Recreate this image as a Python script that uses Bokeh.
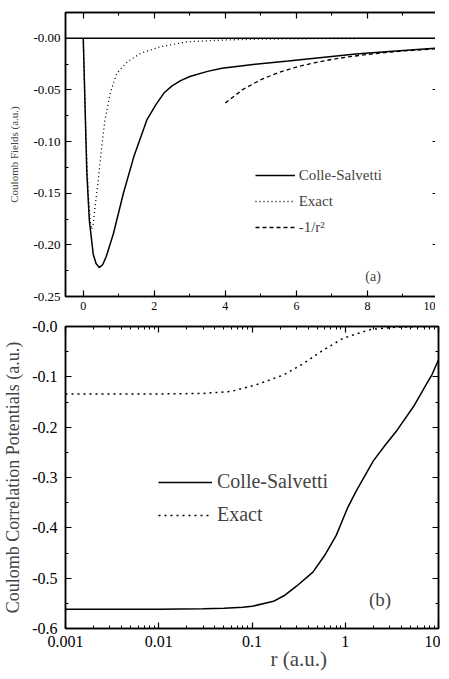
from bokeh.plotting import figure
from bokeh.layouts import column
from bokeh.models import (LinearAxis, LogAxis, FixedTicker, CustomJSTickFormatter,
                          Span, Label, Legend, LegendItem, Range1d, Title)
from bokeh.embed import file_html
from bokeh.resources import INLINE

FONT = "Liberation Serif"

# ---------------- panel (a) data ----------------
a_xticks = [0, 2, 4, 6, 8, 10]
a_xminor = [1, 3, 5, 7, 9]
a_yticks = [0.0, -0.05, -0.10, -0.15, -0.20, -0.25]
a_yminor = [-0.025, -0.075, -0.125, -0.175, -0.225]

a_cs_r = [0.0, 0.05, 0.10, 0.17, 0.28, 0.36, 0.45, 0.55, 0.65, 0.85, 1.13, 1.42, 1.79,
          2.05, 2.27, 2.50, 2.74, 3.00, 3.50, 3.90, 4.84, 5.77, 6.72, 7.67, 8.61, 10.0]
a_cs_f = [0.0, -0.065, -0.130, -0.176, -0.209, -0.218, -0.222, -0.219, -0.211, -0.189,
          -0.150, -0.115, -0.079, -0.064, -0.053, -0.046, -0.041, -0.037, -0.032, -0.029,
          -0.025, -0.022, -0.0185, -0.0153, -0.0127, -0.0095]

a_ex_r = [0.0, 0.075, 0.14, 0.20, 0.235, 0.28, 0.33, 0.42, 0.52, 0.61, 0.76, 0.94, 1.23,
          1.61, 2.17, 2.93, 4.0, 5.0, 7.0, 10.0]
a_ex_f = [0.0, -0.096, -0.150, -0.178, -0.185, -0.180, -0.164, -0.138, -0.105, -0.079,
          -0.053, -0.034, -0.023, -0.0146, -0.0082, -0.0033, -0.0016, -0.0008, -0.0002, 0.0]

a_asym_r = [4.0, 4.5, 5.0, 5.5, 6.0, 6.5, 7.0, 7.5, 8.0, 8.5, 9.0, 9.5, 10.0]
a_asym_f = [-0.0625, -0.0494, -0.0400, -0.0331, -0.0278, -0.0237, -0.0204, -0.0178,
            -0.0156, -0.0138, -0.0123, -0.0111, -0.0100]

# ---------------- panel (b) data ----------------
b_xticks = [0.001, 0.01, 0.1, 1, 10]
b_xminor = [m * d for d in [0.001, 0.01, 0.1, 1] for m in range(2, 10)]
b_yticks = [0.0, -0.1, -0.2, -0.3, -0.4, -0.5, -0.6]
b_yminor = [-0.05, -0.15, -0.25, -0.35, -0.45, -0.55]

b_cs_r = [0.001, 0.01, 0.03, 0.05, 0.08, 0.10, 0.17, 0.22, 0.30, 0.45, 0.60, 0.80, 1.05,
          1.30, 2.0, 2.7, 3.6, 5.4, 7.5, 8.5, 10.0]
b_cs_v = [-0.562, -0.562, -0.561, -0.560, -0.558, -0.556, -0.546, -0.535, -0.516, -0.488,
          -0.455, -0.415, -0.362, -0.328, -0.267, -0.235, -0.206, -0.159, -0.113, -0.096,
          -0.066]

b_ex_r = [0.001, 0.01, 0.03, 0.06, 0.11, 0.22, 0.36, 0.59, 0.96, 1.86, 3.6, 10.0]
b_ex_v = [-0.134, -0.134, -0.133, -0.129, -0.116, -0.096, -0.073, -0.046, -0.023, -0.006,
          -0.001, 0.0]


def style_axis(ax, size, show=True, standoff=4):
    ax.major_tick_in = 6
    ax.major_tick_out = 0
    ax.minor_tick_in = 3
    ax.minor_tick_out = 0
    ax.axis_line_width = 1.5
    ax.major_tick_line_width = 1.2
    ax.minor_tick_line_width = 1.0
    ax.major_label_text_font = FONT
    ax.major_label_text_color = "black"
    if show:
        ax.major_label_text_font_size = size
        ax.major_label_standoff = standoff
    else:
        ax.major_label_text_font_size = "0px"
        ax.major_label_text_color = None
        ax.major_label_standoff = 0


# ---------------- figure (a) ----------------
p1 = figure(frame_width=373, frame_height=284, x_range=Range1d(-0.5, 10),
            y_range=Range1d(-0.25, 0.025), x_axis_type=None, y_axis_type=None,
            output_backend="svg", toolbar_location=None,
            min_border_left=60, min_border_right=2, min_border_top=12, min_border_bottom=18)
p1.outline_line_color = "black"
p1.outline_line_width = 1.5

fmt_a_y = CustomJSTickFormatter(code="return '-' + Math.abs(tick).toFixed(2);")
for side, show in [("below", True), ("above", False)]:
    ax = LinearAxis(ticker=FixedTicker(ticks=a_xticks, minor_ticks=a_xminor))
    style_axis(ax, "12px", show, standoff=5)
    p1.add_layout(ax, side)
for side, show in [("left", True), ("right", False)]:
    ax = LinearAxis(ticker=FixedTicker(ticks=a_yticks, minor_ticks=a_yminor), formatter=fmt_a_y)
    style_axis(ax, "13px", show, standoff=5)
    if show:
        ax.axis_label = "Coulomb Fields (a.u.)"
        ax.axis_label_text_font = FONT
        ax.axis_label_text_font_size = "11px"
        ax.axis_label_text_font_style = "normal"
        ax.axis_label_standoff = 10
    p1.add_layout(ax, side)

p1.add_layout(Span(location=0, dimension="width", line_color="black", line_width=1.5))

r_cs = p1.line(a_cs_r, a_cs_f, line_color="black", line_width=1.5)
r_ex = p1.line(a_ex_r, a_ex_f, line_color="black", line_width=1.3, line_dash="1 3")
r_as = p1.line(a_asym_r, a_asym_f, line_color="black", line_width=1.3, line_dash="4 3")

leg1 = Legend(items=[LegendItem(label="Colle-Salvetti", renderers=[r_cs]),
                     LegendItem(label="Exact", renderers=[r_ex]),
                     LegendItem(label="-1/r\u00b2", renderers=[r_as])],
              location=(194, 59), padding=0, margin=0, spacing=6,
              glyph_width=40, glyph_height=20, label_height=20, label_standoff=4,
              border_line_color=None, background_fill_alpha=0,
              label_text_font=FONT, label_text_font_size="15px")
p1.add_layout(leg1, "center")
p1.add_layout(Label(x=8.16, y=-0.231, text="(a)", text_font=FONT, text_font_size="14px",
                    text_align="center", text_baseline="middle"))

# ---------------- figure (b) ----------------
p2 = figure(frame_width=373, frame_height=302, x_range=Range1d(0.001, 10),
            y_range=Range1d(-0.6, 0.0), x_axis_type="log", y_axis_type=None,
            output_backend="svg", toolbar_location=None,
            min_border_left=60, min_border_right=2, min_border_top=12, min_border_bottom=46)
p2.outline_line_color = "black"
p2.outline_line_width = 1.5
p2.grid.visible = False

fmt_b_x = CustomJSTickFormatter(code="return tick.toString();")
fmt_b_y = CustomJSTickFormatter(code="return '-' + Math.abs(tick).toFixed(1);")
bx = p2.xaxis[0]
bx.ticker = FixedTicker(ticks=b_xticks, minor_ticks=b_xminor)
bx.formatter = fmt_b_x
style_axis(bx, "16px", True, standoff=7)
ax = LogAxis(ticker=FixedTicker(ticks=b_xticks, minor_ticks=b_xminor))
style_axis(ax, "16px", False)
p2.add_layout(ax, "above")
for side, show in [("left", True), ("right", False)]:
    ax = LinearAxis(ticker=FixedTicker(ticks=b_yticks, minor_ticks=b_yminor), formatter=fmt_b_y)
    style_axis(ax, "16px", show, standoff=8)
    if show:
        ax.axis_label = "Coulomb Correlation Potentials (a.u.)"
        ax.axis_label_text_font = FONT
        ax.axis_label_text_font_size = "18px"
        ax.axis_label_text_font_style = "normal"
        ax.axis_label_standoff = 6
    p2.add_layout(ax, side)

p2.add_layout(Title(text="r (a.u.)", align="left", offset=205, standoff=-10,
                    text_font=FONT, text_font_size="21px", text_font_style="normal"), "below")

q_cs = p2.line(b_cs_r, b_cs_v, line_color="black", line_width=1.5)
q_ex = p2.line(b_ex_r, b_ex_v, line_color="black", line_width=1.5, line_dash="2 4")

leg2 = Legend(items=[LegendItem(label="Colle-Salvetti", renderers=[q_cs]),
                     LegendItem(label="Exact", renderers=[q_ex])],
              location=(93, 102), padding=0, margin=0, spacing=10,
              glyph_width=54, glyph_height=20, label_height=20, label_standoff=5,
              border_line_color=None, background_fill_alpha=0,
              label_text_font=FONT, label_text_font_size="20px")
p2.add_layout(leg2, "center")
p2.add_layout(Label(x=2.36, y=-0.543, text="(b)", text_font=FONT, text_font_size="19px",
                    text_align="center", text_baseline="middle"))

layout = column(p1, p2, spacing=0)
open("out.html", "w").write(file_html(layout, INLINE))
